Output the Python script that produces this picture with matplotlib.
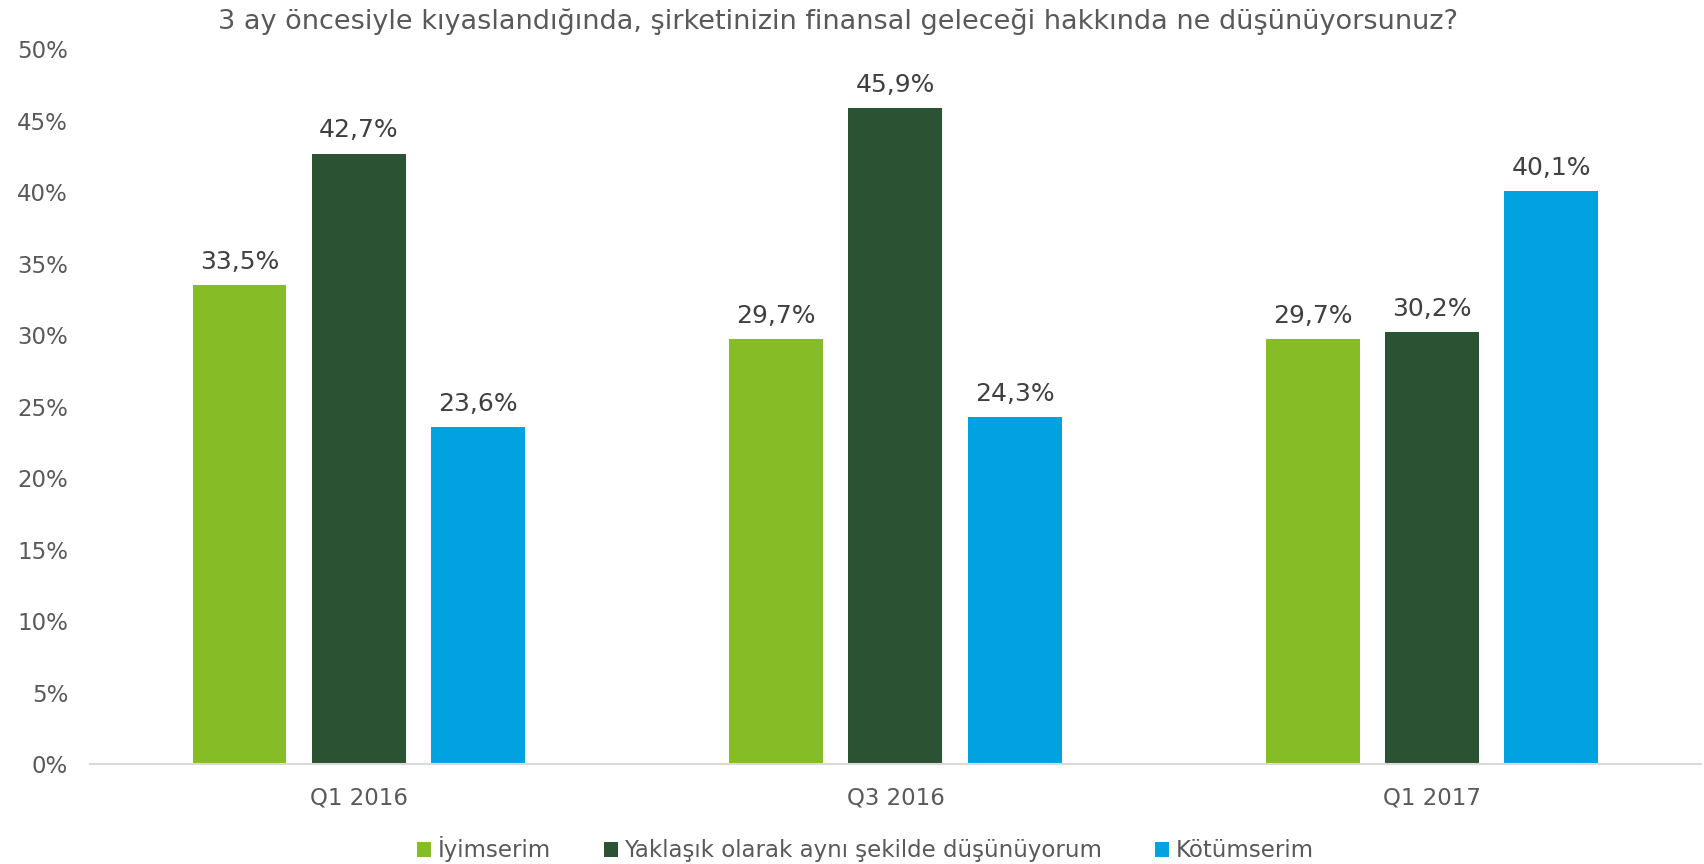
import numpy as np
import matplotlib.pyplot as plt
from matplotlib.ticker import FuncFormatter

plt.rcParams['font.family'] = ['DejaVu Sans']

# data
categories = ["Q1 2016", "Q3 2016", "Q1 2017"]
series_names = ["İyimserim", "Yaklaşık olarak aynı şekilde düşünüyorum", "Kötümserim"]
iyimser = [33.5, 29.7, 29.7]
ayni = [42.7, 45.9, 30.2]
kotumser = [23.6, 24.3, 40.1]
colors = ["#86BC25", "#2C5234", "#00A3E0"]

title = "3 ay öncesiyle kıyaslandığında, şirketinizin finansal geleceği hakkında ne düşünüyorsunuz?"

fig = plt.figure(figsize=(17.04, 8.64), dpi=100)
ax = fig.add_axes([0.053, 0.1157, 0.945, 0.8273])

x = np.arange(len(categories))
w = 0.175
step = 0.222
for i, (vals, name) in enumerate(zip([iyimser, ayni, kotumser], series_names)):
    bars = ax.bar(x + (i - 1) * step, vals, width=w, color=colors[i], label=name)
    for b, v in zip(bars, vals):
        ax.annotate(f"{v:.1f}%".replace(".", ","),
                    (b.get_x() + b.get_width() / 2, v),
                    xytext=(0, 8), textcoords="offset points",
                    ha="center", va="bottom", fontsize=18, color="#404040")

ax.set_xlim(-0.5, 2.5)
ax.set_ylim(0, 50)
ax.set_yticks(np.arange(0, 51, 5))
ax.yaxis.set_major_formatter(FuncFormatter(lambda v, p: f"{v:.0f}%"))
ax.set_xticks(x)
ax.set_xticklabels(categories)
ax.tick_params(axis="both", length=0, labelsize=16.5, labelcolor="#595959")
ax.tick_params(axis="y", pad=16)
ax.tick_params(axis="x", pad=16)

for s in ["top", "right", "left"]:
    ax.spines[s].set_visible(False)
ax.spines["bottom"].set_color("#D9D9D9")
ax.spines["bottom"].set_linewidth(1.5)

fig.text(0.492, 0.975, title, ha="center", va="center", fontsize=19.5, color="#595959")

fig.legend(loc="center", bbox_to_anchor=(0.508, 0.017), ncol=3, frameon=False,
           fontsize=16.5, labelcolor="#595959", handlelength=0.6, handleheight=0.6,
           handletextpad=0.3, columnspacing=2.3)

fig.savefig("out.png", dpi=100)
